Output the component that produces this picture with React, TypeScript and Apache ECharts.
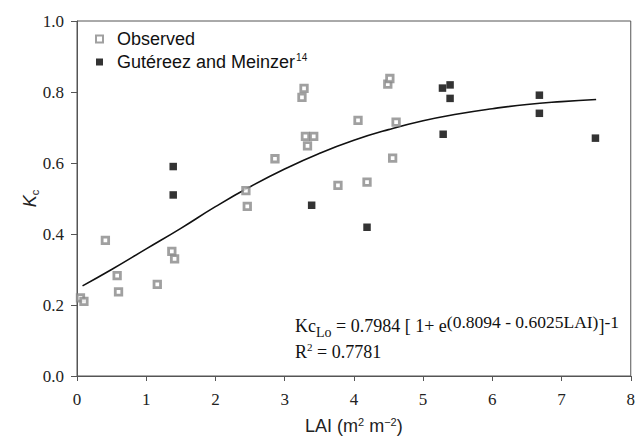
import React, { useEffect, useRef } from "react";
import * as echarts from "echarts";

const observed: [number, number][] = [
  [0.05, 0.22], [0.1, 0.21], [0.41, 0.382], [0.58, 0.283], [0.6, 0.237],
  [1.16, 0.258], [1.37, 0.351], [1.41, 0.33], [2.44, 0.522], [2.46, 0.478],
  [2.86, 0.612], [3.25, 0.785], [3.28, 0.81], [3.3, 0.675], [3.33, 0.648],
  [3.42, 0.675], [3.77, 0.537], [4.06, 0.72], [4.19, 0.546], [4.49, 0.822],
  [4.52, 0.838], [4.56, 0.614], [4.61, 0.715],
];

const gutereez: [number, number][] = [
  [1.39, 0.59], [1.39, 0.51], [3.39, 0.481], [4.19, 0.419], [5.28, 0.811],
  [5.29, 0.681], [5.39, 0.82], [5.39, 0.782], [6.68, 0.791], [6.68, 0.74],
  [7.49, 0.67],
];

const fitCurve: [number, number][] = [
  [0.08, 0.254], [0.5, 0.3], [1, 0.358], [1.5, 0.416], [2, 0.477],
  [2.5, 0.533], [3, 0.583], [3.5, 0.627], [4, 0.664], [4.5, 0.694],
  [5, 0.719], [5.5, 0.738], [6, 0.753], [6.5, 0.765], [7, 0.773], [7.5, 0.779],
];

const seriesNames = ["Observed", "Gutéreez and Meinzer"];
const legendSuperscript = "14";
const equationLine1 = "{n|Kc}{sub|Lo}{n| = 0.7984 [ 1+ e}{sup|(0.8094 - 0.6025LAI)}{n|]}{sup|-1}";
const equationLine2 = "{n|R}{sup2|2}{n| = 0.7781}";

const serif = "Liberation Serif";
const sans = "Liberation Sans";

export default function App() {
  const ref = useRef<HTMLDivElement>(null);
  useEffect(() => {
    if (!ref.current) return;
    const chart = echarts.init(ref.current, undefined, { renderer: "svg" });
    chart.setOption({
      animation: false,
      backgroundColor: "#fff",
      grid: {
        left: 77, right: 2, top: 21, bottom: 67,
        show: true, borderColor: "#555", borderWidth: 1,
      },
      legend: {
        left: 95, top: 30, orient: "vertical", padding: 0,
        itemWidth: 7, itemHeight: 7, itemGap: 4,
        data: seriesNames,
        formatter: (name: string) =>
          name === seriesNames[1]
            ? "{t|" + name + "}{s|" + legendSuperscript + "}"
            : "{t|" + name + "}",
        textStyle: {
          fontFamily: sans, fontSize: 18, color: "#111",
          rich: {
            t: { fontFamily: sans, fontSize: 18, color: "#111", lineHeight: 20, verticalAlign: "middle", padding: [0, 0, 0, 9] },
            s: { fontFamily: sans, fontSize: 10, color: "#111", lineHeight: 11, verticalAlign: "top", padding: [0, 0, 0, 1] },
          },
        },
      },
      xAxis: {
        type: "value", min: 0, max: 8, interval: 1,
        axisLine: { lineStyle: { color: "#555", width: 1 } },
        axisTick: { inside: false, length: 5, lineStyle: { color: "#555" } },
        splitLine: { show: false },
        axisLabel: { fontFamily: serif, fontSize: 17, color: "#222", margin: 15 },
        name: "{a|LAI (m}{s|2}{a| m}{s|−2}{a|)}",
        nameLocation: "middle", nameGap: 40, nameMoveOverlap: false,
        nameTextStyle: {
          fontFamily: sans,
          rich: {
            a: { fontFamily: sans, fontSize: 18, color: "#222", lineHeight: 20, verticalAlign: "middle" },
            s: { fontFamily: sans, fontSize: 11, color: "#222", lineHeight: 11, verticalAlign: "top" },
          },
        },
      },
      yAxis: {
        type: "value", min: 0, max: 1, interval: 0.2,
        axisLine: { show: true, lineStyle: { color: "#555", width: 1 } },
        axisTick: { show: true, inside: false, length: 6, lineStyle: { color: "#555" } },
        splitLine: { show: false },
        axisLabel: {
          fontFamily: serif, fontSize: 17, color: "#222", margin: 13,
          formatter: (v: number) => v.toFixed(1),
        },
        name: "{k|K}{c|c}",
        nameLocation: "middle", nameGap: 37, nameRotate: 90, nameMoveOverlap: false,
        nameTextStyle: {
          fontFamily: sans,
          rich: {
            k: { fontFamily: sans, fontSize: 18, fontStyle: "italic", color: "#222", lineHeight: 20, verticalAlign: "middle" },
            c: { fontFamily: sans, fontSize: 11, color: "#222", lineHeight: 12, verticalAlign: "bottom" },
          },
        },
      },
      series: [
        {
          name: "Fit", type: "line", data: fitCurve, smooth: true, showSymbol: false,
          symbol: "none", lineStyle: { color: "#111", width: 1.6 }, z: 1,
        },
        {
          name: seriesNames[0], type: "scatter", data: observed, symbol: "rect", symbolSize: 6.5,
          itemStyle: { color: "#fff", borderColor: "#888", borderWidth: 2.8 }, z: 3,
        },
        {
          name: seriesNames[1], type: "scatter", data: gutereez, symbol: "rect", symbolSize: 7.5,
          itemStyle: { color: "#000" }, z: 4,
        },
      ],
      graphic: [
        {
          type: "text", left: 295, top: 313,
          style: {
            text: equationLine1,
            rich: {
              n: { fontFamily: serif, fontSize: 18, fill: "#111", lineHeight: 26, verticalAlign: "middle" },
              sub: { fontFamily: serif, fontSize: 14, fill: "#111", lineHeight: 16, verticalAlign: "bottom" },
              sup: { fontFamily: serif, fontSize: 17.5, fill: "#111", lineHeight: 16, verticalAlign: "top" },
            },
          },
        },
        {
          type: "text", left: 295, top: 341,
          style: {
            text: equationLine2,
            rich: {
              n: { fontFamily: serif, fontSize: 18, fill: "#111", lineHeight: 22, verticalAlign: "middle" },
              sup2: { fontFamily: serif, fontSize: 11, fill: "#111", lineHeight: 8, verticalAlign: "top" },
            },
          },
        },
      ],
    });
    return () => chart.dispose();
  }, []);
  return (
    <div
      ref={ref}
      style={{ position: "absolute", left: 0, top: 0, width: 638, height: 443 }}
    />
  );
}
